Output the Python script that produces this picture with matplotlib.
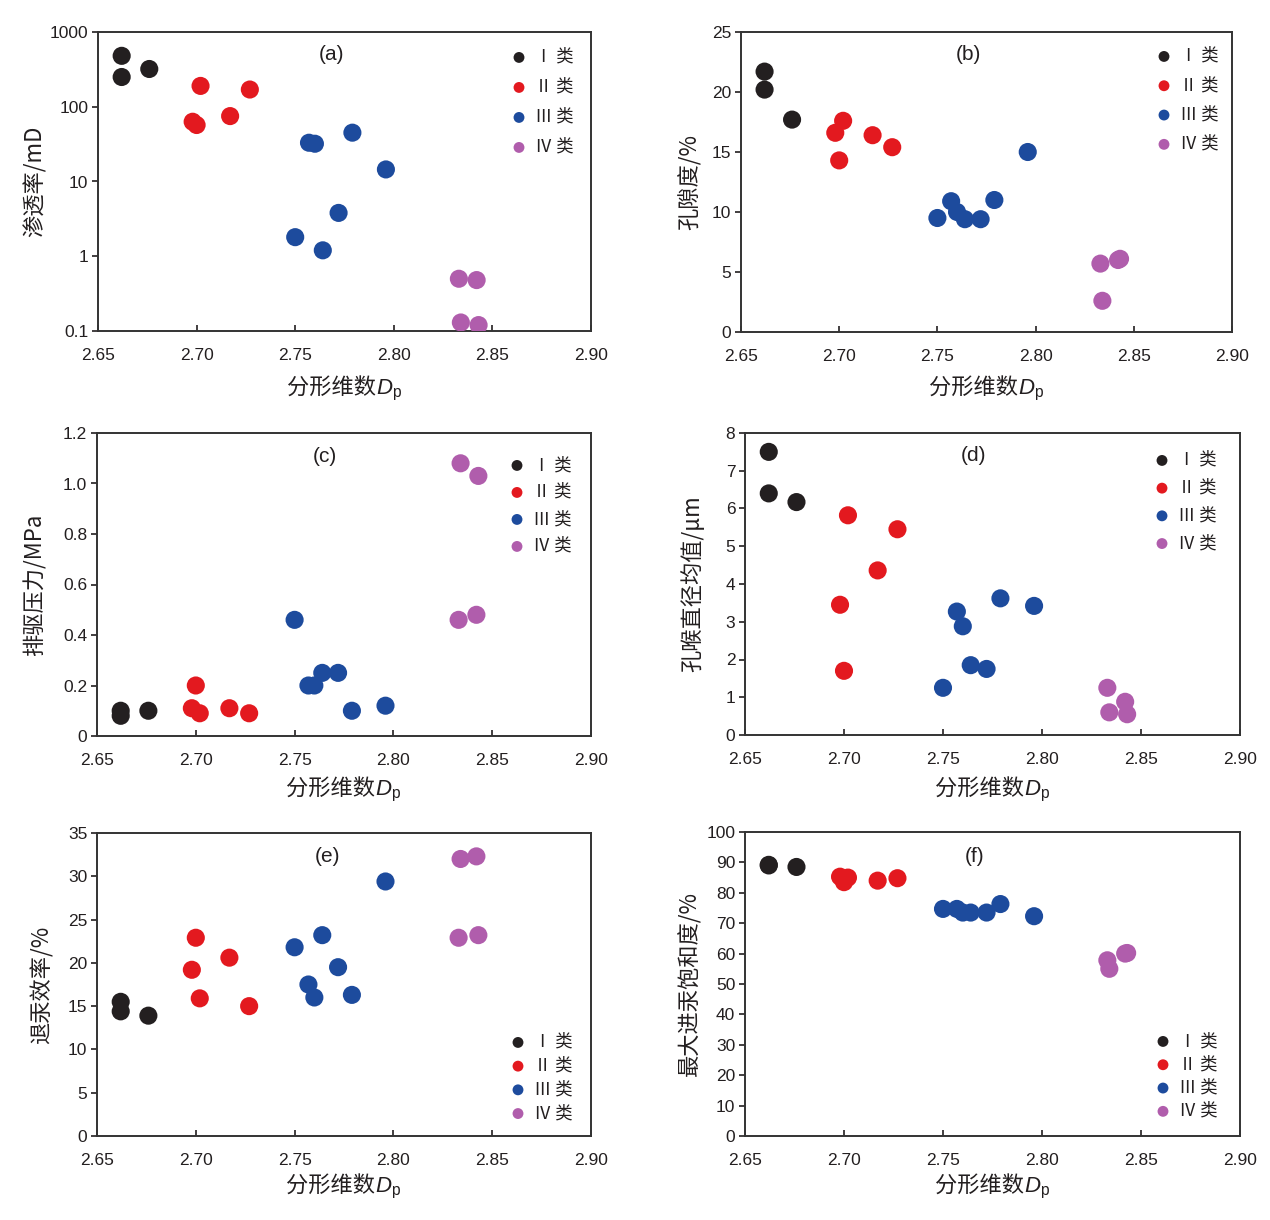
import matplotlib
matplotlib.use('Agg')
import matplotlib.pyplot as plt
from matplotlib.ticker import FixedLocator, FuncFormatter, NullLocator
from matplotlib.offsetbox import TextArea, HPacker, AnchoredOffsetbox

plt.rcParams['font.family'] = ['Liberation Sans', 'Noto Sans CJK SC', 'DejaVu Sans']
plt.rcParams['mathtext.fontset'] = 'custom'
plt.rcParams['mathtext.rm'] = 'Liberation Sans'
plt.rcParams['mathtext.it'] = 'Liberation Sans:italic'
plt.rcParams['axes.unicode_minus'] = False

# 类别与颜色
classes = ['Ⅰ 类', 'Ⅱ 类', 'Ⅲ 类', 'Ⅳ 类']
colors = ['#231f20', '#e3191f', '#1d4b9d', '#b05dac']

# 各类样品的分形维数 Dp
x_I = [2.662, 2.662, 2.676]
x_II = [2.698, 2.700, 2.702, 2.717, 2.727]
x_III = [2.750, 2.757, 2.760, 2.764, 2.772, 2.779, 2.796]
x_IV = [2.833, 2.834, 2.842, 2.843]

# (a) 渗透率/mD
perm_I = [480, 250, 320]
perm_II = [63, 57, 190, 75, 170]
perm_III = [1.8, 33, 32, 1.2, 3.8, 45, 14.5]
perm_IV = [0.5, 0.13, 0.48, 0.12]

# (b) 孔隙度/%
por_I = [21.7, 20.2, 17.7]
por_II = [16.6, 14.3, 17.6, 16.4, 15.4]
por_III = [9.5, 10.9, 10.0, 9.4, 9.4, 11.0, 15.0]
por_IV = [5.7, 2.6, 6.0, 6.1]

# (c) 排驱压力/MPa
pd_I = [0.10, 0.08, 0.10]
pd_II = [0.11, 0.20, 0.09, 0.11, 0.09]
pd_III = [0.46, 0.20, 0.20, 0.25, 0.25, 0.10, 0.12]
pd_IV = [0.46, 1.08, 0.48, 1.03]

# (d) 孔喉直径均值/μm
dm_I = [7.5, 6.4, 6.17]
dm_II = [3.45, 1.7, 5.82, 4.36, 5.45]
dm_III = [1.25, 3.27, 2.88, 1.85, 1.75, 3.62, 3.42]
dm_IV = [1.25, 0.6, 0.88, 0.55]

# (e) 退汞效率/%
we_I = [15.5, 14.4, 13.9]
we_II = [19.2, 22.9, 15.9, 20.6, 15.0]
we_III = [21.8, 17.5, 16.0, 23.2, 19.5, 16.3, 29.4]
we_IV = [22.9, 32.0, 32.3, 23.2]

# (f) 最大进汞饱和度/%
sm_I = [89.2, 89.0, 88.5]
sm_II = [85.3, 83.5, 85.0, 84.0, 84.8]
sm_III = [74.7, 74.7, 73.5, 73.5, 73.5, 76.3, 72.3]
sm_IV = [57.8, 55.0, 60.0, 60.2]

xs = [x_I, x_II, x_III, x_IV]

# rect: 轴框像素(左,上,右,下); ylx: 纵轴标题中心x; xly: 横轴标题中心y
# tagxy: 小标题中心; leg: 图例首个点中心; gap: 图例行距
panels = [
    dict(tag='(a)', ylabel='渗透率/mD', ys=[perm_I, perm_II, perm_III, perm_IV],
         ylim=(0.1, 1000), yticks=[0.1, 1, 10, 100, 1000], log=True,
         rect=(98, 32, 591, 331), ylx=35, xly=390, tagxy=(332, 55), leg=(519, 57), gap=30),
    dict(tag='(b)', ylabel='孔隙度/%', ys=[por_I, por_II, por_III, por_IV],
         ylim=(0, 25), yticks=[0, 5, 10, 15, 20, 25], log=False,
         rect=(741, 32, 1232, 332), ylx=690, xly=390, tagxy=(968, 55), leg=(1164, 56), gap=29.3),
    dict(tag='(c)', ylabel='排驱压力/MPa', ys=[pd_I, pd_II, pd_III, pd_IV],
         ylim=(0, 1.2), yticks=[0, 0.2, 0.4, 0.6, 0.8, 1.0, 1.2], log=False,
         rect=(97, 433, 591, 736), ylx=35, xly=791, tagxy=(325, 456), leg=(517, 465), gap=27),
    dict(tag='(d)', ylabel='孔喉直径均值/μm', ys=[dm_I, dm_II, dm_III, dm_IV],
         ylim=(0, 8), yticks=[0, 1, 2, 3, 4, 5, 6, 7, 8], log=False,
         rect=(745, 433, 1240, 735), ylx=692, xly=791, tagxy=(973, 456), leg=(1162, 460), gap=27.7),
    dict(tag='(e)', ylabel='退汞效率/%', ys=[we_I, we_II, we_III, we_IV],
         ylim=(0, 35), yticks=[0, 5, 10, 15, 20, 25, 30, 35], log=False,
         rect=(97, 833, 591, 1136), ylx=42, xly=1188, tagxy=(328, 857), leg=(518, 1042), gap=23.7),
    dict(tag='(f)', ylabel='最大进汞饱和度/%', ys=[sm_I, sm_II, sm_III, sm_IV],
         ylim=(0, 100), yticks=list(range(0, 101, 10)), log=False,
         rect=(745, 832, 1240, 1136), ylx=690, xly=1188, tagxy=(975, 857), leg=(1163, 1041), gap=23.3),
]

W, H = 1270, 1220
fig = plt.figure(figsize=(W / 100, H / 100), dpi=100)
txt = '#231f20'
cjk = ['Noto Sans CJK SC', 'DejaVu Sans']
leg_fs = 12.5
leg_px = leg_fs * 100 / 72
leg_row = 18.0  # 图例单行文字高度(像素)的估计

for p in panels:
    l, t, r, b = p['rect']
    aw, ah = r - l, b - t
    ax = fig.add_axes([l / W, 1 - b / H, aw / W, ah / H])
    handles = []
    for k in range(4):
        h = ax.scatter(xs[k], p['ys'][k], s=170, color=colors[k],
                       edgecolors='none', label=classes[k], zorder=3)
        handles.append(h)
    if p['log']:
        ax.set_yscale('log')
        ax.yaxis.set_minor_locator(NullLocator())
        ax.yaxis.set_major_locator(FixedLocator(p['yticks']))
        ax.yaxis.set_major_formatter(FuncFormatter(lambda v, pos: '%g' % v))
    else:
        ax.set_yticks(p['yticks'])
        if p['tag'] == '(c)':
            ax.yaxis.set_major_formatter(FuncFormatter(lambda v, pos: '0' if v == 0 else '%.1f' % v))
        else:
            ax.yaxis.set_major_formatter(FuncFormatter(lambda v, pos: '%d' % round(v)))
    ax.set_ylim(*p['ylim'])
    ax.set_xlim(2.65, 2.90)
    ax.set_xticks([2.65, 2.70, 2.75, 2.80, 2.85, 2.90])
    ax.xaxis.set_major_formatter(FuncFormatter(lambda v, pos: '%.2f' % v))
    ax.tick_params(axis='y', direction='out', length=4, width=1.2, labelsize=12.5,
                   colors=txt, pad=3)
    ax.tick_params(axis='x', direction='in', length=4, width=1.2, labelsize=12.5,
                   colors=txt, pad=12.5)
    for s in ax.spines.values():
        s.set_color('#333333')
        s.set_linewidth(1.4)

    # 横轴标题: 中文 + 斜体 D + 下标 p
    part1 = TextArea('分形维数', textprops=dict(family=cjk, size=16, color=txt))
    part2 = TextArea('$\\mathit{D}_\\mathrm{p}$', textprops=dict(size=16, color=txt))
    xl = AnchoredOffsetbox(loc='center', child=HPacker(children=[part1, part2],
                           align='baseline', pad=0, sep=0),
                           pad=0, borderpad=0, frameon=False,
                           bbox_to_anchor=(0.5, -(p['xly'] - b) / ah),
                           bbox_transform=ax.transAxes)
    fig.add_artist(xl)

    ax.set_ylabel(p['ylabel'], fontsize=16, color=txt, family=cjk)
    ax.yaxis.set_label_coords((p['ylx'] - l) / aw, 0.5)
    ax.yaxis.label.set_verticalalignment('center')

    tx, ty = p['tagxy']
    ax.text((tx - l) / aw, (b - ty) / ah, p['tag'], transform=ax.transAxes,
            ha='center', va='center', fontsize=15, color=txt)

    mx, my = p['leg']
    spacing = (p['gap'] - leg_row) / leg_px
    ax.legend(handles=handles, loc='upper left',
              bbox_to_anchor=((mx - 0.5 * leg_px - l) / aw, (b - my + leg_row / 2) / ah),
              frameon=False, markerscale=0.6, handletextpad=0.4,
              labelspacing=spacing, borderpad=0, borderaxespad=0, handlelength=1.0,
              labelcolor=txt, prop=dict(family=cjk, size=leg_fs))

fig.savefig('out.png', dpi=100, facecolor='white')
